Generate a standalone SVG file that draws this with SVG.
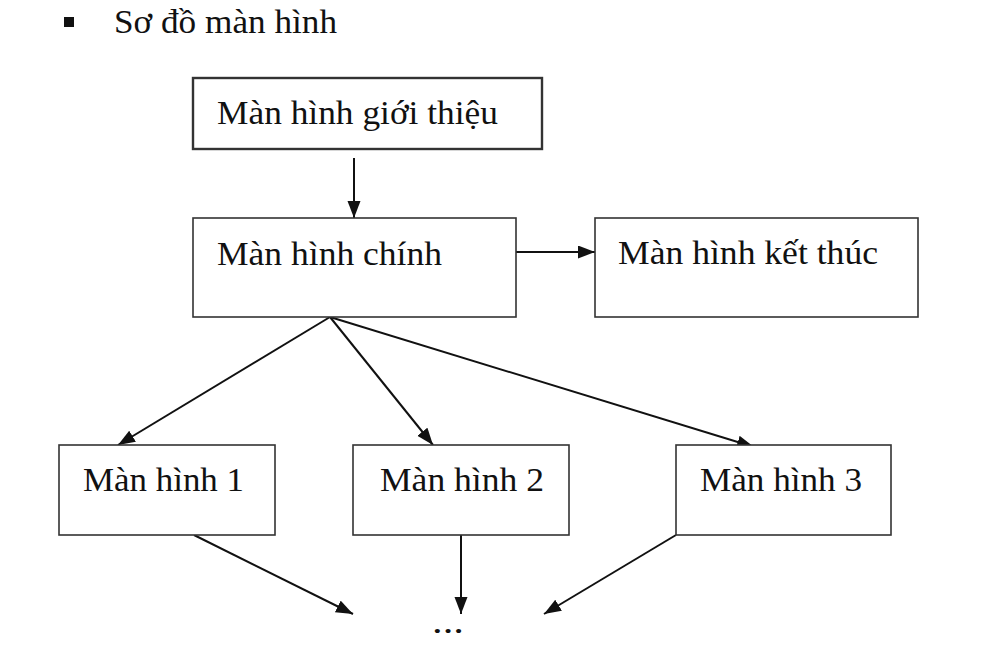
<svg xmlns="http://www.w3.org/2000/svg" width="1002" height="652" viewBox="0 0 1002 652">
<style>
.box{fill:#fff;stroke:#333;stroke-width:1.6}
.t{font-family:"Liberation Serif","Times New Roman",serif;font-size:33px;fill:#111}
.c{stroke:#111;stroke-width:2;fill:none;marker-end:url(#ah)}
</style>
<defs>
<marker id="ah" markerUnits="userSpaceOnUse" markerWidth="18" markerHeight="14" refX="17" refY="6.5" orient="auto">
<path d="M0,0 L17,6.5 L0,13 z" fill="#111"/>
</marker>
</defs>
<rect width="1002" height="652" fill="#fff"/>
<g id="title">
<rect x="64" y="17" width="10" height="10" fill="#111"/>
<text class="t" x="114" y="33" textLength="223" lengthAdjust="spacingAndGlyphs">Sơ đồ màn hình</text>
</g>
<g id="connectors">
<line class="c" x1="354" y1="158" x2="354" y2="218"/>
<line class="c" x1="516" y1="252" x2="595" y2="252"/>
<line class="c" x1="330" y1="317" x2="118" y2="445"/>
<line class="c" x1="330" y1="317" x2="433" y2="445"/>
<line class="c" x1="330" y1="317" x2="754" y2="447"/>
<line class="c" x1="194" y1="535" x2="353" y2="614"/>
<line class="c" x1="461" y1="535" x2="461" y2="614"/>
<line class="c" x1="676" y1="535" x2="544" y2="614"/>
</g>
<g id="intro">
<rect class="box" x="193" y="78" width="349" height="71" style="stroke-width:2.4"/>
<text class="t" x="217" y="124" textLength="281" lengthAdjust="spacingAndGlyphs">Màn hình giới thiệu</text>
</g>
<g id="main">
<rect class="box" x="193" y="218" width="323" height="99"/>
<text class="t" x="217" y="265" textLength="225" lengthAdjust="spacingAndGlyphs">Màn hình chính</text>
</g>
<g id="end">
<rect class="box" x="595" y="218" width="323" height="99"/>
<text class="t" x="618" y="264" textLength="260" lengthAdjust="spacingAndGlyphs">Màn hình kết thúc</text>
</g>
<g id="screen1">
<rect class="box" x="59" y="445" width="216" height="90"/>
<text class="t" x="83" y="491" textLength="161" lengthAdjust="spacingAndGlyphs">Màn hình 1</text>
</g>
<g id="screen2">
<rect class="box" x="353" y="445" width="216" height="90"/>
<text class="t" x="380" y="491" textLength="164" lengthAdjust="spacingAndGlyphs">Màn hình 2</text>
</g>
<g id="screen3">
<rect class="box" x="676" y="445" width="215" height="90"/>
<text class="t" x="700" y="491" textLength="162" lengthAdjust="spacingAndGlyphs">Màn hình 3</text>
</g>
<g id="more">
<text class="t" x="432" y="633" textLength="32" lengthAdjust="spacingAndGlyphs">...</text>
</g>
</svg>
